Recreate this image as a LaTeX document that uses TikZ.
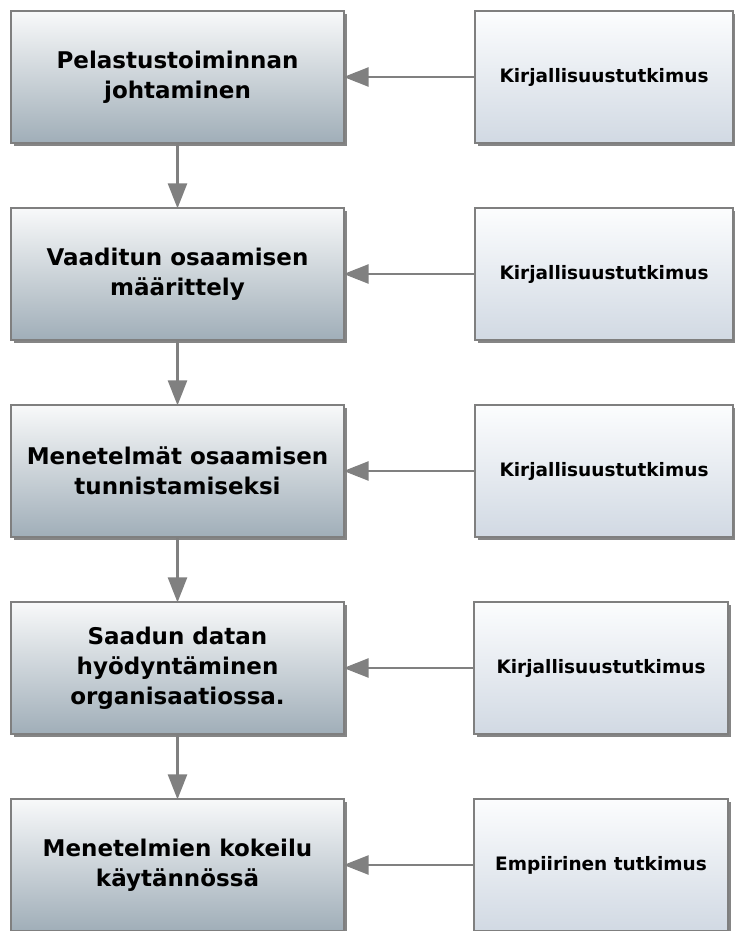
\documentclass[tikz,border=0pt]{standalone}
\usepackage{fontspec}
\setmainfont{DejaVu Sans}
\usetikzlibrary{arrows.meta,shadows}

\definecolor{edgegray}{HTML}{7F7F7F}
\definecolor{arrowgray}{HTML}{808080}
\definecolor{shadowgray}{HTML}{858585}
\definecolor{stagetop}{HTML}{F8F9FA}
\definecolor{stagebot}{HTML}{A0AEB8}
\definecolor{sourcetop}{HTML}{FCFDFE}
\definecolor{sourcebot}{HTML}{D1D9E3}

\tikzset{
  boxbase/.style={draw=edgegray, line width=1.2pt, rectangle, align=center,
    inner sep=0pt,
    drop shadow={shadow xshift=3pt, shadow yshift=-3pt, fill=shadowgray, opacity=1}},
  stagebox/.style={boxbase, minimum width=333pt, minimum height=132pt,
    top color=stagetop, bottom color=stagebot,
    font=\bfseries\fontsize{23}{30}\selectfont},
  sourcebox/.style={boxbase, minimum height=132pt,
    top color=sourcetop, bottom color=sourcebot,
    font=\bfseries\fontsize{18.5}{22}\selectfont},
  flowarrow/.style={draw=arrowgray, line width=2.5pt,
    -{Triangle[length=25pt, width=19pt]}, shorten >=-1pt},
}

\begin{document}
\begin{tikzpicture}[x=1pt, y=-1pt]
  \useasboundingbox (0,0) rectangle (734,931);

  % main chain of stages
  \node[stagebox] (s1) at (177.5,77)  {Pelastustoiminnan\\johtaminen};
  \node[stagebox] (s2) at (177.5,274) {Vaaditun osaamisen\\määrittely};
  \node[stagebox] (s3) at (177.5,471) {Menetelmät osaamisen\\tunnistamiseksi};
  \node[stagebox] (s4) at (177.5,668) {Saadun datan\\hyödyntäminen\\organisaatiossa.};
  \node[stagebox] (s5) at (177.5,865) {Menetelmien kokeilu\\käytännössä};

  % sources feeding each stage
  \node[sourcebox, minimum width=258pt] (r1) at (604,77)  {Kirjallisuustutkimus};
  \node[sourcebox, minimum width=258pt] (r2) at (604,274) {Kirjallisuustutkimus};
  \node[sourcebox, minimum width=258pt] (r3) at (604,471) {Kirjallisuustutkimus};
  \node[sourcebox, minimum width=254pt] (r4) at (601,668) {Kirjallisuustutkimus};
  \node[sourcebox, minimum width=254pt] (r5) at (601,865) {Empiirinen tutkimus};

  % vertical flow
  \foreach \a/\b in {s1/s2, s2/s3, s3/s4, s4/s5}
    \draw[flowarrow] (\a.south) -- (\b.north);

  % horizontal inputs
  \foreach \i in {1,...,5}
    \draw[flowarrow] (r\i.west) -- (s\i.east);
\end{tikzpicture}
\end{document}
